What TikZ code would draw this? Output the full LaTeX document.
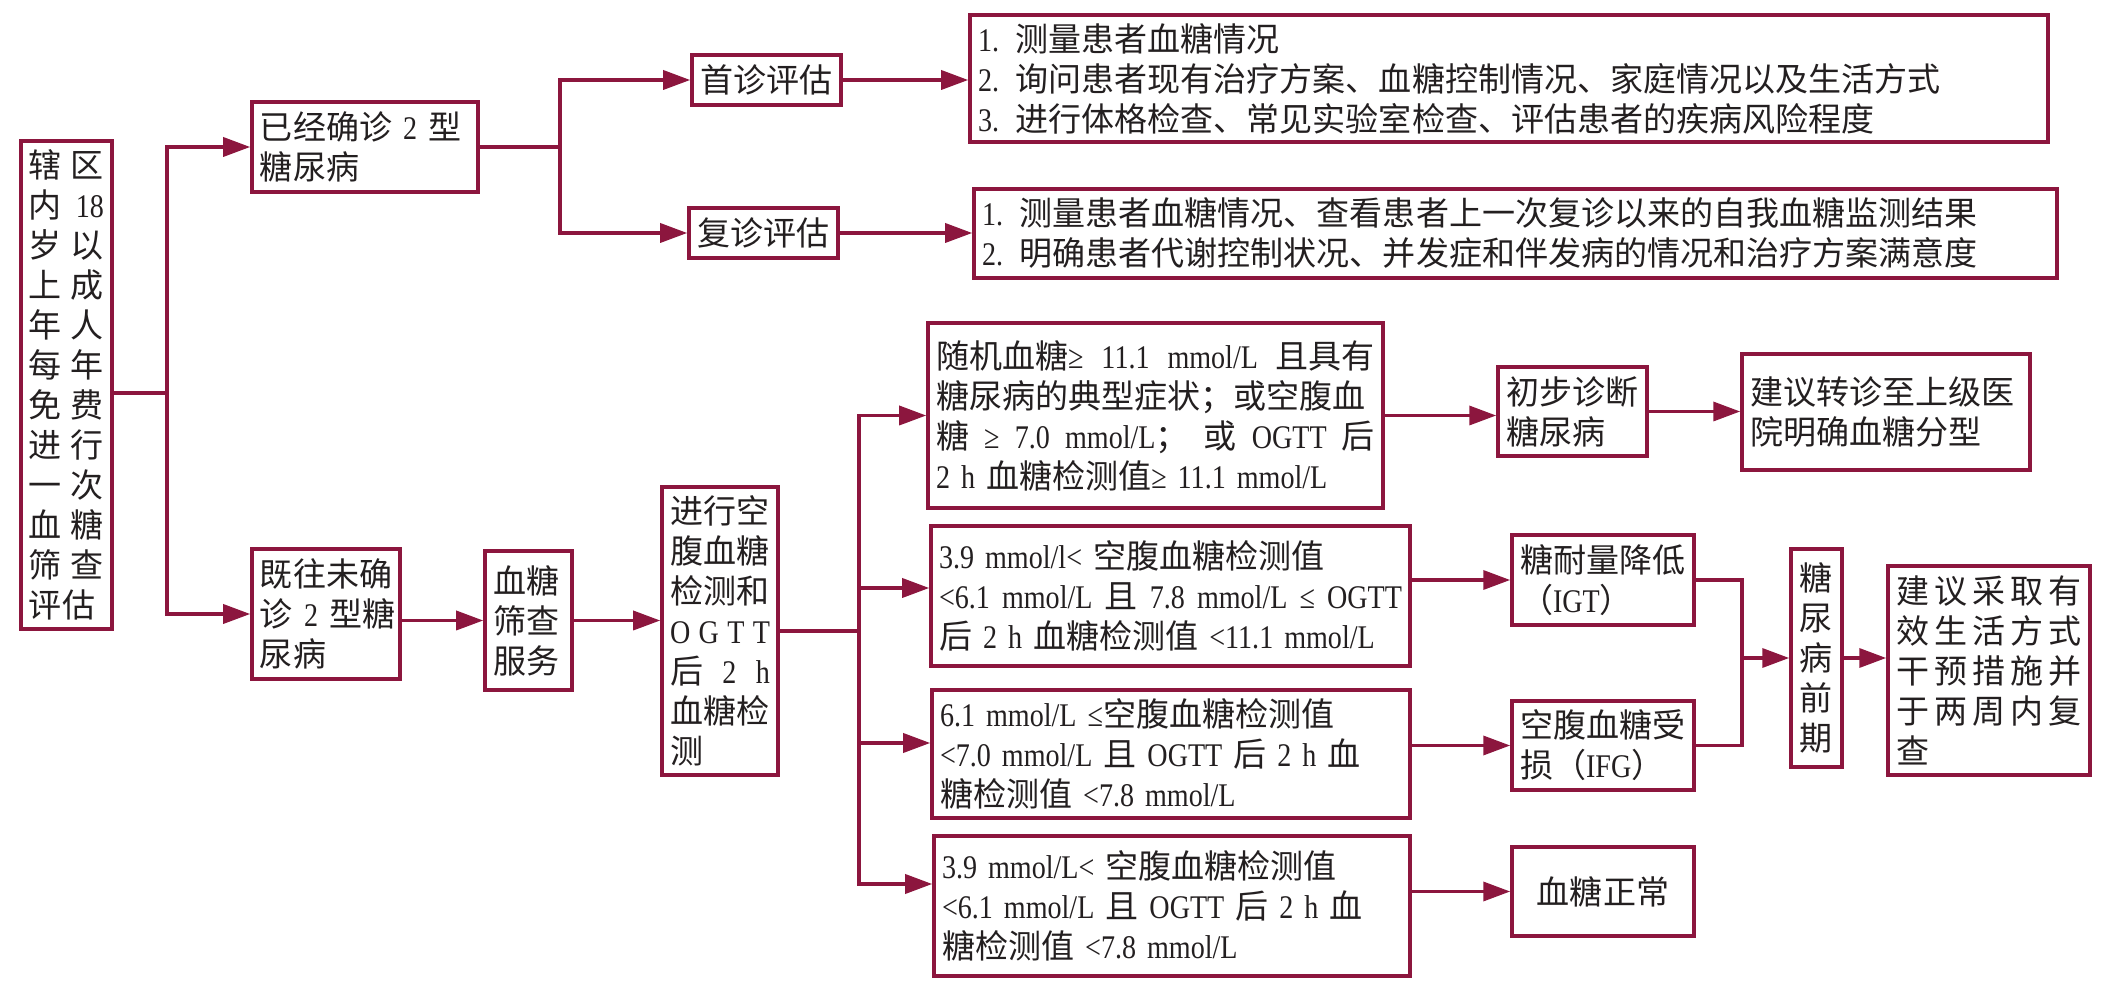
\documentclass[tikz,border=0pt]{standalone}
\usepackage{fontspec}
\setmainfont[FakeStretch=0.85, WordSpace=0.7]{Liberation Serif}
\newfontfamily\latinfont[FakeStretch=0.85, WordSpace=0.7]{Liberation Serif}
\newfontfamily\cjkfont{Noto Sans CJK SC}
\XeTeXinterchartokenstate=1
\newXeTeXintercharclass\cjkclass
\newcount\cjkcode
\cjkcode="3000
\loop\XeTeXcharclass\cjkcode=\cjkclass\advance\cjkcode by 1 \ifnum\cjkcode<"A000 \repeat
\cjkcode="FF00
\loop\XeTeXcharclass\cjkcode=\cjkclass\advance\cjkcode by 1 \ifnum\cjkcode<"FFF0 \repeat
\XeTeXinterchartoks 0 \cjkclass = {\cjkfont}
\XeTeXinterchartoks 4095 \cjkclass = {\cjkfont}
\XeTeXinterchartoks \cjkclass 0 = {\latinfont}
\XeTeXinterchartoks \cjkclass 4095 = {\latinfont}
\usepackage{tikz}
\usetikzlibrary{arrows.meta}
\definecolor{wine}{RGB}{140,22,62}
\definecolor{ink}{RGB}{35,31,32}
\tikzset{
 box/.style={draw=wine, line width=1pt, text=ink, inner xsep=0.08cm, inner ysep=0pt, align=left, font=\fontsize{9.4pt}{0.4cm}\selectfont},
 link/.style={wine, line width=1pt},
 flow/.style={wine, line width=1pt, ->, >={Triangle[length=2.7mm, width=1.9mm]}}
}
\newcommand{\spr}[1]{\makebox[\linewidth][s]{\spaceskip=0pt plus 1fil\relax #1}}

\begin{document}
\begin{tikzpicture}
\useasboundingbox (0,0) rectangle (21.03,9.93);
\node[box, text width=.75cm, minimum height=4.88cm] (scr) at (0.665,6.08) {\spr{辖 区}\\\spr{内 18}\\\spr{岁 以}\\\spr{上 成}\\\spr{年 人}\\\spr{每 年}\\\spr{免 费}\\\spr{进 行}\\\spr{一 次}\\\spr{血 糖}\\\spr{筛 查}\\评估};
\node[box, text width=2.10cm, minimum height=.90cm] (dx) at (3.65,8.46) {已经确诊 2 型\\糖尿病};
\node[box, text width=1.32cm, minimum height=1.30cm] (undx) at (3.26,3.79) {既往未确\\诊~2~型糖\\尿病};
\node[box, text width=1.33cm, minimum height=.50cm] (first) at (7.665,9.13) {首诊评估};
\node[box, text width=1.33cm, minimum height=.50cm] (revisit) at (7.635,7.60) {复诊评估};
\node[box, text width=10.62cm, minimum height=1.27cm] (firstlist) at (15.09,9.145) {1. 测量患者血糖情况\\2. 询问患者现有治疗方案、血糖控制情况、家庭情况以及生活方式\\3. 进行体格检查、常见实验室检查、评估患者的疾病风险程度};
\node[box, text width=10.67cm, minimum height=.89cm] (revlist) at (15.155,7.595) {1. 测量患者血糖情况、查看患者上一次复诊以来的自我血糖监测结果\\2. 明确患者代谢控制状况、并发症和伴发病的情况和治疗方案满意度};
\node[box, text width=.71cm, minimum height=1.39cm] (screen) at (5.285,3.725) {血糖\\筛查\\服务};
\node[box, text width=1.00cm, minimum height=2.88cm] (test) at (7.20,3.62) {进行空\\腹血糖\\检测和\\\spr{O G T T}\\\spr{后 2 h}\\血糖检\\测};
\node[box, text width=4.39cm, minimum height=1.85cm] (dm) at (11.555,5.775) {\spr{随机血糖≥ 11.1 mmol/L 且具有}\\糖尿病的典型症状；或空腹血\\\spr{糖 ≥ 7.0 mmol/L； 或 OGTT 后}\\2 h 血糖检测值≥ 11.1 mmol/L};
\node[box, text width=4.63cm, minimum height=1.40cm] (igtc) at (11.705,3.97) {3.9 mmol/l< 空腹血糖检测值\\\spr{<6.1 mmol/L 且 7.8 mmol/L ≤ OGTT}\\后 2 h 血糖检测值 <11.1 mmol/L};
\node[box, text width=4.62cm, minimum height=1.28cm] (ifgc) at (11.71,2.39) {6.1 mmol/L ≤空腹血糖检测值\\<7.0 mmol/L 且 OGTT 后 2 h 血\\糖检测值 <7.8 mmol/L};
\node[box, text width=4.60cm, minimum height=1.40cm] (normc) at (11.72,0.87) {3.9 mmol/L< 空腹血糖检测值\\<6.1 mmol/L 且 OGTT 后 2 h 血\\糖检测值 <7.8 mmol/L};
\node[box, text width=1.33cm, minimum height=.89cm] (prelim) at (15.725,5.815) {初步诊断\\糖尿病};
\node[box, text width=2.72cm, minimum height=1.16cm] (refer) at (18.86,5.81) {建议转诊至上级医\\院明确血糖分型};
\node[box, text width=1.66cm, minimum height=.90cm] (igt) at (16.03,4.13) {糖耐量降低\\（IGT）};
\node[box, text width=1.66cm, minimum height=.89cm] (ifg) at (16.03,2.475) {空腹血糖受\\损（IFG）};
\node[box, text width=1.66cm, minimum height=.89cm, align=center] (normal) at (16.03,1.015) {血糖正常};
\node[box, text width=.35cm, minimum height=2.18cm, align=center] (pre) at (18.165,3.35) {糖\\尿\\病\\前\\期};
\node[box, text width=1.86cm, minimum height=2.09cm] (advice) at (19.89,3.225) {\spr{建 议 采 取 有}\\\spr{效 生 活 方 式}\\\spr{干 预 措 施 并}\\\spr{于 两 周 内 复}\\查};
\coordinate (j1) at (1.67,6.00);
\coordinate (j2) at (5.60,8.46);
\coordinate (j3) at (8.59,3.62);
\coordinate (j4) at (17.42,3.35);
\draw[link] (scr.east |- j1) -- (j1);
\draw[flow] (j1) |- (dx);
\draw[flow] (j1) |- (undx);
\draw[link] (dx) -- (j2);
\draw[flow] (j2) |- (first);
\draw[flow] (j2) |- (revisit);
\draw[flow] (first) -- (first -| firstlist.west);
\draw[flow] (revisit) -- (revisit -| revlist.west);
\draw[flow] (screen.west -| undx.east) -- (screen.west);
\draw[flow] (screen) -- (screen -| test.west);
\draw[link] (test) -- (j3);
\foreach \n/\s in {dm/0,igtc/.08,ifgc/.11,normc/.22}
  \draw[flow] (j3) |- ([yshift=\s cm]\n.west);
\draw[flow] (dm) -- (dm -| prelim.west);
\draw[flow] (prelim) -- (prelim -| refer.west);
\foreach \a/\b in {igtc/igt,ifgc/ifg,normc/normal}
  \draw[flow] (\b.west -| \a.east) -- (\b.west);
\draw[link] (igt) -| (j4);
\draw[link] (ifg) -| (j4);
\draw[flow] (j4) -- (pre);
\draw[flow] (pre) -- (pre -| advice.west);
\end{tikzpicture}
\end{document}
